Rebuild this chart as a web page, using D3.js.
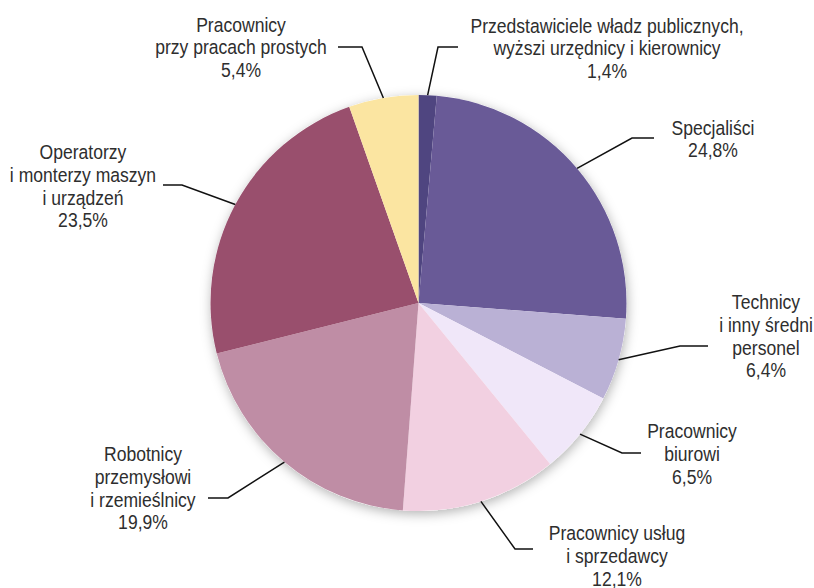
<!DOCTYPE html>
<html>
<head>
<meta charset="utf-8">
<script src="https://cdn.jsdelivr.net/npm/d3@7"></script>
<style>
  body { margin: 0; background: #fff; }
  .label { font-family: "Liberation Sans", Arial, sans-serif; font-size: 19.5px; fill: #2e2e2e; }
</style>
</head>
<body>
<svg width="814" height="588"></svg>
<script>
// chart data
const categories = [
    ['Przedstawiciele władz publicznych,', 'wyższi urzędnicy i kierownicy'],
    ['Specjaliści'],
    ['Technicy', 'i inny średni', 'personel'],
    ['Pracownicy', 'biurowi'],
    ['Pracownicy usług', 'i sprzedawcy'],
    ['Robotnicy', 'przemysłowi', 'i rzemieślnicy'],
    ['Operatorzy', 'i monterzy maszyn', 'i urządzeń'],
    ['Pracownicy', 'przy pracach prostych']
];
const values = [1.4, 24.8, 6.4, 6.5, 12.1, 19.9, 23.5, 5.4];
const colors = ['#4f4580', '#695a97', '#bab1d5', '#f0e7f9', '#f2d0e1', '#bf8da5', '#994f6d', '#fbe5a1'];

//layout for labels: text centre, first baseline, leader elbow and end
const labelLayout = [
    { x: 607, y: 32.5, elbow: [438, 47], end: [458, 47] },
    { x: 713, y: 134.5, elbow: [632, 138], end: [654, 138] },
    { x: 766, y: 309, elbow: [680, 346], end: [708, 346] },
    { x: 692, y: 438, elbow: [622, 453], end: [641, 453] },
    { x: 617, y: 540, elbow: [515, 549], end: [533, 549] },
    { x: 143, y: 461, elbow: [228, 498], end: [208, 498] },
    { x: 83, y: 159, elbow: [182, 185], end: [163, 185] },
    { x: 241, y: 31.5, elbow: [362, 47], end: [338, 47] }
];

const svg = d3.select('svg');
const cx = 418.5, cy = 303, radius = 208;
const lineHeight = 22.8;
const textSquash = 0.9;

const fmt = v => d3.format('.1f')(v).replace('.', ',') + '%';

const defs = svg.append('defs');
const shadow = defs.append('filter')
    .attr('id', 'shadow')
    .attr('x', '-20%').attr('y', '-20%')
    .attr('width', '140%').attr('height', '140%');
shadow.append('feDropShadow')
    .attr('dx', 1).attr('dy', 3)
    .attr('stdDeviation', 6)
    .attr('flood-color', '#000')
    .attr('flood-opacity', 0.3);

const pie = d3.pie().sort(null).value(d => d);
const arcs = pie(values);
const arc = d3.arc().innerRadius(0).outerRadius(radius);
const edgeArc = d3.arc().innerRadius(radius).outerRadius(radius);

const g = svg.append('g')
    .attr('transform', `translate(${cx}, ${cy})`);

//shadow disc under the slices
g.append('circle')
    .attr('r', radius)
    .attr('fill', '#fff')
    .attr('filter', 'url(#shadow)');

g.selectAll('path.slice').data(arcs)
    .enter().append('path')
        .attr('class', 'slice')
        .attr('d', arc)
        .attr('fill', (d, i) => colors[i]);

//leader lines
svg.selectAll('polyline').data(arcs)
    .enter().append('polyline')
        .attr('points', (d, i) => {
            const [px, py] = edgeArc.centroid(d);
            const l = labelLayout[i];
            return [[cx + px, cy + py], l.elbow, l.end].map(p => p.join(',')).join(' ');
        })
        .attr('fill', 'none')
        .attr('stroke', '#111')
        .attr('stroke-width', 1.5);

//labels (slightly condensed like the original typeface)
arcs.forEach((d, i) => {
    const l = labelLayout[i];
    const lines = categories[i].concat([fmt(values[i])]);
    const t = svg.append('text')
        .attr('class', 'label')
        .attr('text-anchor', 'middle')
        .attr('transform', `translate(${l.x}, ${l.y}) scale(${textSquash}, 1)`);
    lines.forEach((s, k) => {
        t.append('tspan')
            .attr('x', 0)
            .attr('y', k * lineHeight)
            .text(s);
    });
});
</script>
</body>
</html>
